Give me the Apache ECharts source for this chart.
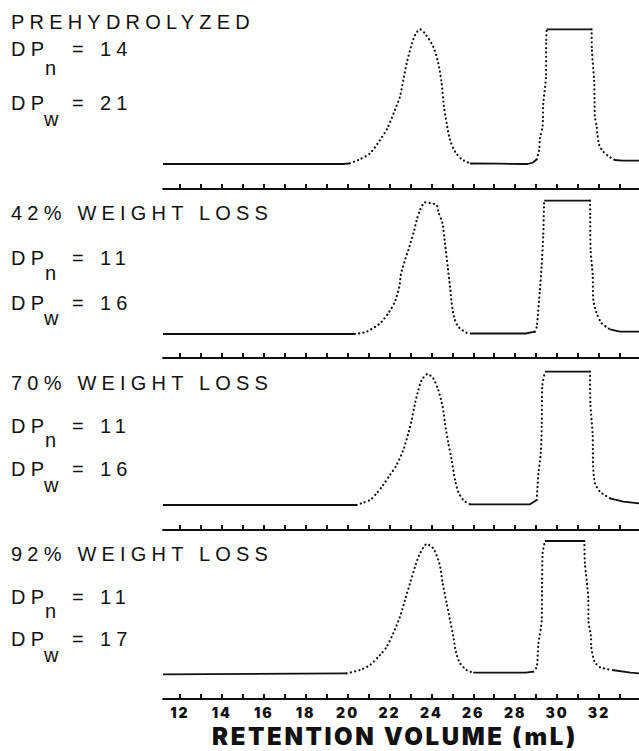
<!DOCTYPE html>
<html><head><meta charset="utf-8">
<script src="https://cdn.jsdelivr.net/npm/echarts@6/dist/echarts.min.js"></script>
<style>
html,body{margin:0;padding:0;background:#fff;}
#chart{width:639px;height:751px;}
#chart text[style*="20px"]{letter-spacing:5.2px;}
#chart text[style*="14px"]{letter-spacing:2px;}
#chart text[style*="24px"]{letter-spacing:2.6px;}
</style></head>
<body><div id="chart"></div>
<script>
// ---- data (retention volume mL, detector response in arbitrary units) ----
const tickValues = [12,13,14,15,16,17,18,19,20,21,22,23,24,25,26,27,28,29,30,31,32,33];
const labelValues = [12,14,16,18,20,22,24,26,28,30,32];
const panelTitles = ['PREHYDROLYZED','42% WEIGHT LOSS','70% WEIGHT LOSS','92% WEIGHT LOSS'];
const dpnValues = ['14','11','11','11'];
const dpwValues = ['21','16','16','17'];
const axisTitle = 'RETENTION VOLUME (mL)';

const panel1Solid = [
  [[11.19,25],[19.8,25],[20.11,25.7]],
  [[25.84,25.5],[27.27,25.3],[28.6,25],[28.85,26.5],[29.03,29.7]],
  [[29.50,159.7],[31.65,159.7]],
  [[32.76,29],[33.1,28.3],[33.91,28.3]]
];
const panel1Dots = [
  [[20.11,25.7],[20.59,29.7],[21.07,35.7],[21.55,49],[21.90,60.7],[22.26,79],[22.50,92.3],[22.66,109],[22.82,125.7],[23.03,142.3],[23.22,154],[23.46,159.7],[23.69,155.7],[24.09,142.3],[24.33,125.7],[24.49,105.7],[24.60,82.3],[24.73,65.7],[24.89,49],[25.13,37.3],[25.45,29.7],[25.84,25.7]],
  [[29.03,29.7],[29.15,39.7],[29.18,50.7],[29.31,63],[29.34,85],[29.47,113],[29.48,148],[29.50,159.7]],
  [[31.65,159.7],[31.66,139.7],[31.77,108],[31.79,87.3],[31.80,73],[31.89,63],[31.92,55.7],[32.01,44],[32.21,37.3],[32.44,33],[32.76,29]]
];

const panel2Solid = [
  [[11.19,24],[20.35,24]],
  [[25.84,24.5],[28.5,24.5],[28.94,26.3]],
  [[29.39,157.3],[31.57,157.3]],
  [[32.53,28.7],[33.0,26.3],[33.91,26.3]]
];
const panel2Dots = [
  [[20.35,24],[20.91,26.3],[21.55,34.7],[21.94,44.7],[22.26,56.3],[22.47,71.3],[22.55,84],[22.74,98],[22.95,111.3],[23.14,124.7],[23.30,138],[23.46,148],[23.69,155.7],[23.93,155],[24.25,153],[24.33,146.3],[24.53,134.7],[24.65,114.7],[24.78,91.3],[24.89,71.3],[24.97,54.7],[25.08,41.3],[25.28,31.3],[25.68,25.3],[25.84,24.5]],
  [[28.94,26.3],[29.03,31.3],[29.18,68],[29.26,91.3],[29.34,123],[29.38,154.7],[29.39,157.3]],
  [[31.57,157.3],[31.58,143],[31.60,108],[31.70,83],[31.73,58],[31.89,44.7],[32.13,34.7],[32.53,28.7]]
];

const panel3Solid = [
  [[11.19,25],[20.43,25]],
  [[25.84,25.7],[28.71,25.7],[29.03,30]],
  [[29.42,158.3],[31.57,158.3]],
  [[32.53,31.7],[33.16,28.3],[33.91,26.7]]
];
const panel3Dots = [
  [[20.43,25],[20.75,27.3],[21.07,30],[21.39,36.7],[21.70,45],[22.02,55],[22.34,65],[22.66,80],[22.90,96.7],[23.06,110],[23.22,126.7],[23.38,140],[23.54,150],[23.82,156],[24.09,151.7],[24.33,140],[24.54,123.3],[24.65,106.7],[24.81,86.7],[24.97,70],[25.13,50],[25.28,38.3],[25.52,30],[25.84,25.7]],
  [[29.03,30],[29.11,56.7],[29.22,76.7],[29.27,106.7],[29.29,143.3],[29.42,158.3]],
  [[31.57,158.3],[31.59,126.7],[31.70,95],[31.71,76.7],[31.72,63.3],[31.81,46.7],[32.05,38.3],[32.53,31.7]]
];

const panel4Solid = [
  [[11.19,24.7],[19.96,25.7]],
  [[26.0,26.3],[28.5,26.3],[28.86,27.3]],
  [[29.42,158],[31.30,158]],
  [[32.62,29],[33.5,26.3],[33.91,25.7]]
];
const panel4Dots = [
  [[19.96,25.7],[20.59,29],[21.07,34],[21.55,44],[21.87,52.3],[22.18,65.7],[22.50,82.3],[22.74,99],[22.98,115.7],[23.22,132.3],[23.46,145.7],[23.78,155],[24.09,150.7],[24.38,135.7],[24.54,115.7],[24.73,95.7],[24.89,79],[25.05,62.3],[25.17,47.3],[25.37,35.7],[25.68,29],[26.0,26.3]],
  [[28.86,27.3],[29.03,32.3],[29.11,55.7],[29.27,79],[29.28,107.3],[29.31,145.7],[29.42,158]],
  [[31.30,158],[31.33,135.7],[31.49,100.7],[31.50,77.3],[31.62,62.3],[31.63,52.3],[31.79,37.3],[32.06,31.7],[32.62,29]]
];

// ---- layout ----
const solids = [panel1Solid, panel2Solid, panel3Solid, panel4Solid];
const dots = [panel1Dots, panel2Dots, panel3Dots, panel4Dots];
const axisY = [189, 358, 530, 699];
const gridH = 170;
const titleY = [21.5, 212.8, 382.5, 554];
const dpnY = [49, 258.3, 425.8, 596.7];
const dpwY = [103.3, 302.5, 469, 639];
const subN = [19, 14.5, 14.5, 14.5];
const subW = [15.5, 15.5, 15.5, 15.5];
const INK = '#111';

const grids = [], xAxes = [], yAxes = [], series = [], graphics = [];
for (let i = 0; i < 4; i++) {
  grids.push({left: 163, right: 0, top: axisY[i] - gridH, height: gridH, outerBoundsMode: 'none', containLabel: false});
  xAxes.push({
    type: 'value', gridIndex: i, min: 11.19, max: 33.91,
    axisLine: {show: true, onZero: false, lineStyle: {color: INK, width: 1.8}},
    axisTick: {show: true, inside: true, length: 5, customValues: tickValues, lineStyle: {color: INK, width: 2}},
    axisLabel: {show: i === 3, customValues: labelValues, color: INK, fontFamily: 'Inter', fontWeight: 900, fontSize: 14, margin: 6},
    splitLine: {show: false}
  });
  yAxes.push({type: 'value', gridIndex: i, min: 0, max: gridH, show: false, splitLine: {show: false}});
  solids[i].forEach(seg => series.push({
    type: 'line', xAxisIndex: i, yAxisIndex: i, data: seg, symbol: 'none', silent: true,
    lineStyle: {color: INK, width: 1.8}
  }));
  dots[i].forEach(seg => series.push({
    type: 'line', xAxisIndex: i, yAxisIndex: i, data: seg, symbol: 'none', silent: true, smooth: 0.25,
    lineStyle: {color: INK, width: 2.2, type: [0.1, 4.2], cap: 'round'}
  }));
  const font = '20px "Liberation Sans", Arial, sans-serif';
  const txt = (x, y, text) => graphics.push({type: 'text', x: x, y: y, silent: true,
    style: {text: text, font: font, fill: INK, textAlign: 'left', textVerticalAlign: 'middle'}});
  txt(11, titleY[i], panelTitles[i]);
  txt(11, dpnY[i], 'DP');
  txt(45, dpnY[i] + subN[i], 'n');
  txt(72, dpnY[i], '=');
  txt(100, dpnY[i], dpnValues[i]);
  txt(11, dpwY[i], 'DP');
  txt(44, dpwY[i] + subW[i], 'w');
  txt(72, dpwY[i], '=');
  txt(100, dpwY[i], dpwValues[i]);
}
graphics.push({type: 'text', x: 395, y: 736, silent: true,
  style: {text: axisTitle, font: '900 24px Inter, "DejaVu Sans", sans-serif', fill: INK, textAlign: 'center', textVerticalAlign: 'middle'}});

const chart = echarts.init(document.getElementById('chart'), null, {renderer: 'svg'});
chart.setOption({
  animation: false,
  backgroundColor: '#fff',
  grid: grids, xAxis: xAxes, yAxis: yAxes, series: series, graphic: graphics
});
</script></body></html>
